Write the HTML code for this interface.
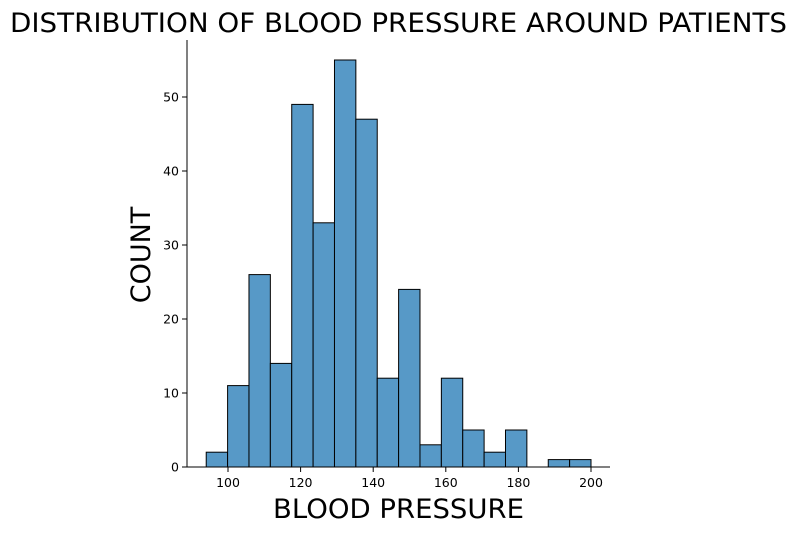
<!DOCTYPE html>
<html><head><meta charset="utf-8"><style>
body{margin:0;background:#fff;}
svg{display:block;font-family:"DejaVu Sans","Liberation Sans",sans-serif;}
</style></head><body>
<svg id="chart" width="797" height="534" viewBox="0 0 797 534">
<text x="10" y="32" font-size="27" textLength="777" lengthAdjust="spacingAndGlyphs" fill="#000">DISTRIBUTION OF BLOOD PRESSURE AROUND PATIENTS</text>
<g id="bars"></g>
<g id="axes"></g>
<text x="273" y="518" font-size="27" textLength="251" lengthAdjust="spacingAndGlyphs">BLOOD PRESSURE</text>
<text transform="translate(150,255) rotate(-90)" text-anchor="middle" font-size="27">COUNT</text>
</svg>
<script>
const binStart = 94;
const binEnd = 200;
const counts = [2,11,26,14,49,33,55,47,12,24,3,12,5,2,5,0,1,1];
const xTicks = [100,120,140,160,180,200];
const yTicks = [0,10,20,30,40,50];
const NS="http://www.w3.org/2000/svg";
const x = v => 228 + (v-100)*3.63;
const y = v => 467 - v*7.4;
const bars=document.getElementById('bars'), axes=document.getElementById('axes');
const w=(binEnd-binStart)/counts.length;
function mk(tag,attrs,parent){const e=document.createElementNS(NS,tag);for(const k in attrs)e.setAttribute(k,attrs[k]);parent.appendChild(e);return e;}
counts.forEach((c,i)=>{
  if(c<=0)return;
  const x0=x(binStart+i*w), x1=x(binStart+(i+1)*w);
  const r=mk('rect',{x:x0,y:y(c),width:x1-x0,height:y(0)-y(c),fill:'#5799c7',stroke:'#000','stroke-width':1},bars);
  
  
});
const ya=mk('line',{x1:187,y1:40,x2:187,y2:467,stroke:'#000','stroke-width':1},axes);


const xa=mk('line',{x1:187,y1:467,x2:610,y2:467,stroke:'#000','stroke-width':1},axes);


xTicks.forEach(t=>{
  mk('line',{x1:x(t),y1:467,x2:x(t),y2:472,stroke:'#000'},axes);
  const tx=mk('text',{x:x(t),y:487,'text-anchor':'middle','font-size':12.5},axes);
  tx.textContent=t;
  
  
});
yTicks.forEach(t=>{
  mk('line',{x1:182,y1:y(t),x2:187,y2:y(t),stroke:'#000'},axes);
  const tx=mk('text',{x:179,y:y(t)+4.5,'text-anchor':'end','font-size':12.5},axes);
  tx.textContent=t;
  
  
});
</script>
</body></html>
